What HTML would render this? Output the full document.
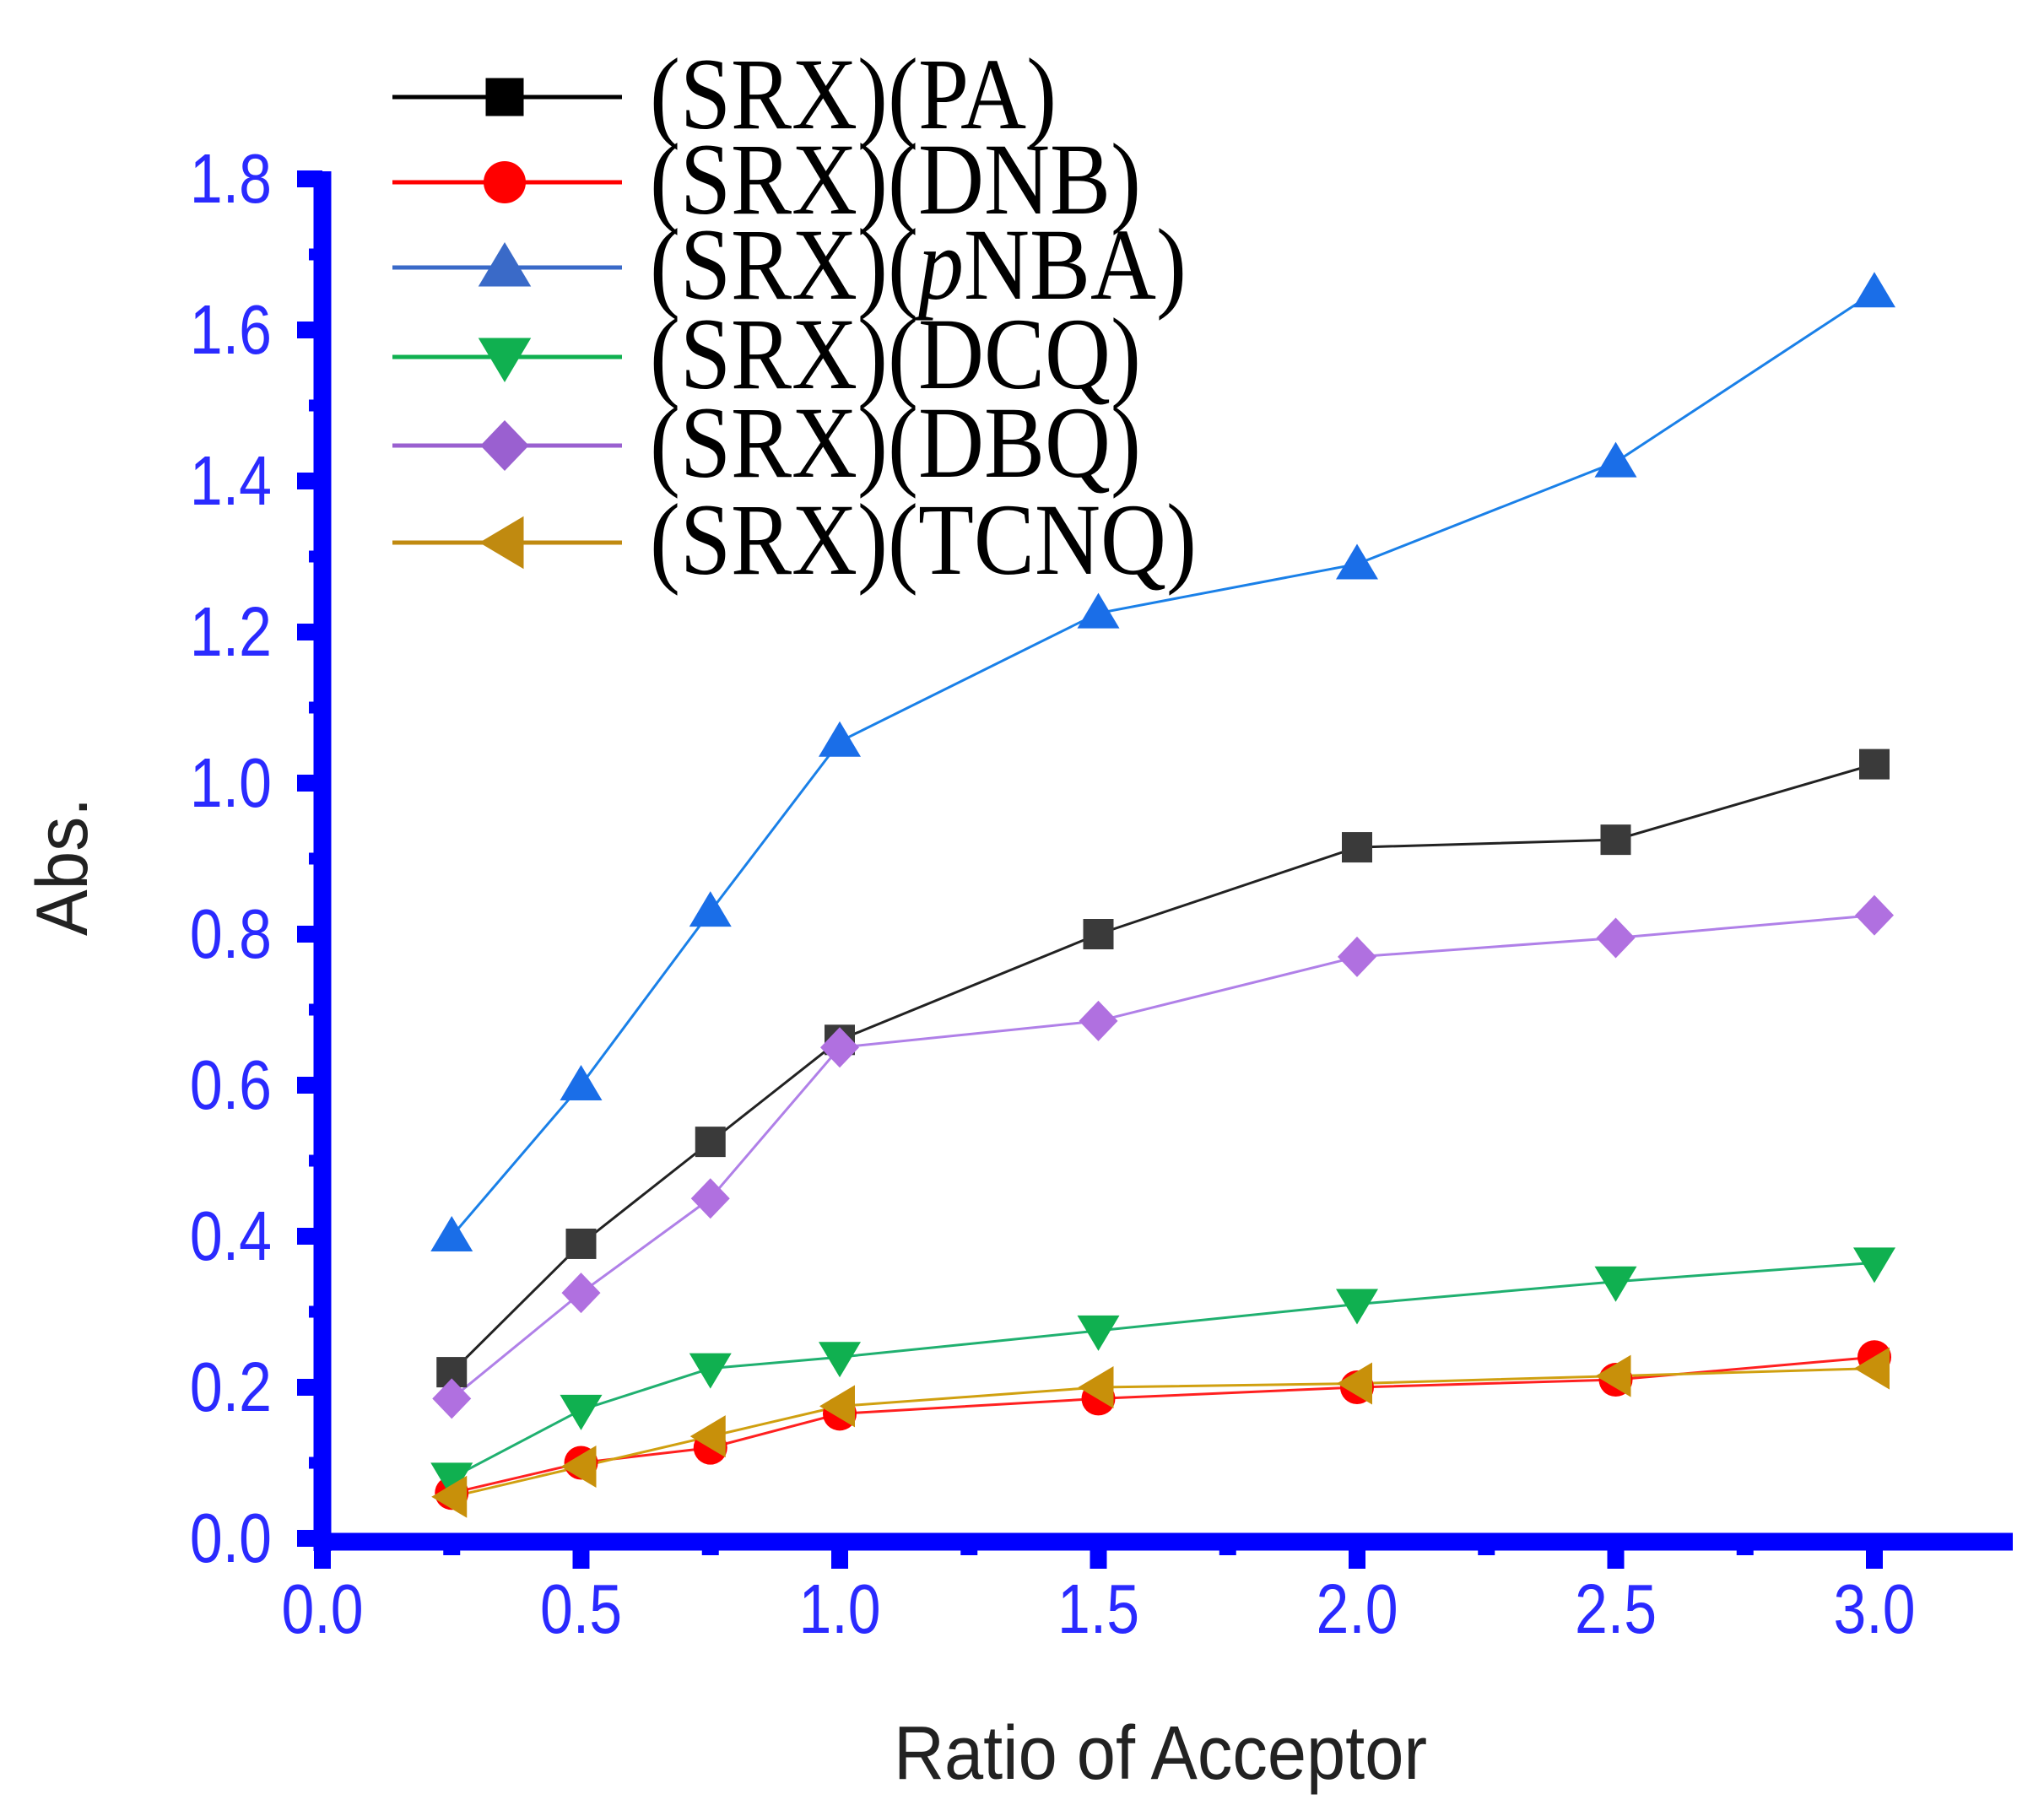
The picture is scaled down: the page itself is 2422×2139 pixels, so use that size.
<!DOCTYPE html>
<html><head><meta charset="utf-8"><style>html,body{margin:0;padding:0;background:#fff}svg{display:block}</style></head>
<body>
<svg id="s" width="2422" height="2139" xmlns="http://www.w3.org/2000/svg">
<rect width="2422" height="2139" fill="#fff"/>
<g id="plot"></g>
<g fill="none" stroke="#0000ff">
<line x1="382" y1="203" x2="382" y2="1838" stroke-width="21"/>
<line x1="372" y1="1827" x2="2385" y2="1827" stroke-width="21"/>
</g>
<g id="ticks" fill="#0000ff"></g>
<g id="lab" font-family="Liberation Sans, Arial, sans-serif" font-size="72" fill="#2a2aff"></g>
<text x="0" y="0" transform="translate(103,1027) rotate(-90) scale(1,1.05)" text-anchor="middle" font-family="Liberation Sans, Arial, sans-serif" font-size="82" fill="#222">Abs.</text>
<text x="0" y="0" transform="translate(1375,2108) scale(1,1.08)" text-anchor="middle" font-family="Liberation Sans, Arial, sans-serif" font-size="83" fill="#222">Ratio of Acceptor</text>
<g id="leg" font-family="Liberation Serif, Times New Roman, serif" font-size="108" fill="#000"></g>
</svg>
<script>
var NS="http://www.w3.org/2000/svg";
function el(p,t,a,txt){var e=document.createElementNS(NS,t);for(var k in a)e.setAttribute(k,a[k]);if(txt!==undefined)e.textContent=txt;p.appendChild(e);return e;}
var X0=382,XU=613,Y0=1823,YU=(1823-212)/1.8;
function px(x){return X0+x*XU}function py(y){return Y0-y*YU}
var ticks=document.getElementById('ticks'),lab=document.getElementById('lab');
for(var i=0;i<=18;i++){var y=py(i/10);
 if(i%2==0){el(ticks,'rect',{x:352,y:y-10,width:30,height:20});el(lab,'text',{transform:'translate(322,'+(y+28)+') scale(0.97,1.15)','text-anchor':'end'},(i/10).toFixed(1));}
 else el(ticks,'rect',{x:366,y:y-7,width:16,height:14});}
for(var i=0;i<=12;i++){var x=px(i*0.25);
 if(i%2==0){el(ticks,'rect',{x:x-10,y:1827,width:20,height:32});el(lab,'text',{transform:'translate('+x+',1935) scale(0.97,1.15)','text-anchor':'middle'},(i*0.25).toFixed(1));}
 else el(ticks,'rect',{x:x-10,y:1827,width:20,height:16});}
var xs=[0.25,0.5,0.75,1,1.5,2,2.5,3];
var S=[
 {n:'(SRX)(PA)',lc:'#222',mc:'#3a3a3a',lgc:'#000',m:'sq',d:[.22,.39,.525,.66,.80,.915,.925,1.025]},
 {n:'(SRX)(DNB)',lc:'#ff2020',mc:'#ff0000',lgc:'#ff0000',m:'ci',d:[.06,.10,.12,.165,.185,.20,.21,.24]},
 {n:'(SRX)(pNBA)',lc:'#1a80e8',mc:'#1a6ee8',lgc:'#3a6ac8',m:'tu',d:[.40,.60,.83,1.055,1.225,1.29,1.425,1.65]},
 {n:'(SRX)(DCQ)',lc:'#20b070',mc:'#10b050',lgc:'#10b050',m:'td',d:[.08,.17,.225,.24,.275,.31,.34,.365]},
 {n:'(SRX)(DBQ)',lc:'#b080e8',mc:'#b070e0',lgc:'#9a60d0',m:'di',d:[.185,.325,.45,.65,.685,.77,.795,.825]},
 {n:'(SRX)(TCNQ)',lc:'#d0a010',mc:'#c8900a',lgc:'#c08a10',m:'tl',d:[.055,.095,.135,.175,.20,.205,.215,.225]}];
function mark(p,t,x,y,c,s){s=s||1;
 if(t=='sq')el(p,'rect',{x:x-18*s,y:y-18*s,width:36*s,height:36*s,fill:c});
 else if(t=='ci')el(p,'ellipse',{cx:x,cy:y,rx:20*s,ry:20*s,fill:c});
 else if(t=='tu')el(p,'polygon',{points:[x,y-24*s,x+25*s,y+18*s,x-25*s,y+18*s].join(','),fill:c});
 else if(t=='td')el(p,'polygon',{points:[x,y+24*s,x+25*s,y-18*s,x-25*s,y-18*s].join(','),fill:c});
 else if(t=='di')el(p,'polygon',{points:[x,y-24*s,x+23*s,y,x,y+24*s,x-23*s,y].join(','),fill:c});
 else if(t=='tl')el(p,'polygon',{points:[x-24*s,y,x+18*s,y-25*s,x+18*s,y+25*s].join(','),fill:c});}
var plot=document.getElementById('plot');
S.forEach(function(s){var pts=xs.map(function(x,i){return px(x)+','+py(s.d[i])}).join(' ');
 el(plot,'polyline',{points:pts,fill:'none',stroke:s.lc,'stroke-width':3});});
S.forEach(function(s){xs.forEach(function(x,i){mark(plot,s.m,px(x),py(s.d[i]),s.mc);});});
var leg=document.getElementById('leg');var ly=[115,216,317,423,528,643];
S.forEach(function(s,i){var y=ly[i];
 el(leg,'line',{x1:465,y1:y,x2:737,y2:y,stroke:s.lgc,'stroke-width':5});
 mark(leg,s.m,598,y,s.lgc,1.25);
 var tr='translate(770,'+(y+37)+') scale(1,1.12)';
 if(i==2){var t=el(leg,'text',{transform:tr});el(t,'tspan',{},'(SRX)(');el(t,'tspan',{'font-style':'italic'},'p');el(t,'tspan',{},'NBA)');}
 else el(leg,'text',{transform:tr},s.n);});
</script>
</body></html>
